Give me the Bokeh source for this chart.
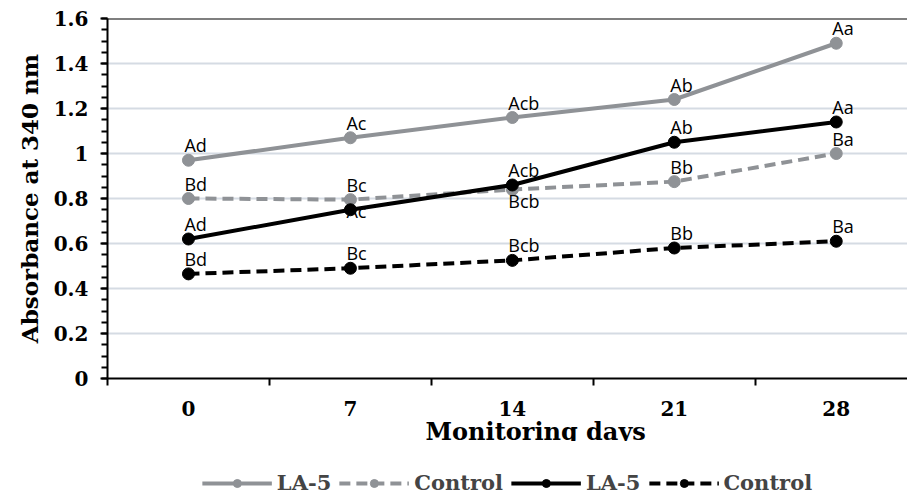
from bokeh.plotting import figure
from bokeh.layouts import column
from bokeh.models import (Range1d, FixedTicker, Legend, LegendItem, Span, Title,
                          ColumnDataSource, CustomJSTickFormatter)
from bokeh.core.properties import value
from bokeh.embed import file_html
from bokeh.resources import INLINE

# ---- data ----
days = ["0", "7", "14", "21", "28"]
la5_grey = [0.97, 1.07, 1.16, 1.24, 1.49]
ctrl_grey = [0.80, 0.795, 0.84, 0.875, 1.00]
la5_black = [0.62, 0.75, 0.86, 1.05, 1.14]
ctrl_black = [0.465, 0.49, 0.525, 0.58, 0.61]

lab_la5_grey = ["Ad", "Ac", "Acb", "Ab", "Aa"]
lab_ctrl_grey = ["Bd", "Bc", "Bcb", "Bb", "Ba"]
lab_la5_black = ["Ad", "Ac", "Acb", "Ab", "Aa"]
lab_ctrl_black = ["Bd", "Bc", "Bcb", "Bb", "Ba"]

y_ticks = [0, 0.2, 0.4, 0.6, 0.8, 1.0, 1.2, 1.4, 1.6]
series_names = ["LA-5", "Control", "LA-5", "Control"]
x_title = "Monitoring days"
y_title = "Absorbance at 340 nm"

# label placement (baseline, screen offset in px; positive = down)
ABOVE = ("alphabetic", -15)
place_la5_grey = [ABOVE] * 5
place_ctrl_grey = [ABOVE, ABOVE, ("top", -1), ABOVE, ABOVE]
place_la5_black = [ABOVE, ("top", -11), ABOVE, ABOVE, ABOVE]
place_ctrl_black = [ABOVE] * 5

GREY = "#8f9296"
BLACK = "#000000"
SERIF = "DejaVu Serif"

xs = list(range(len(days)))

p = figure(frame_width=800, frame_height=360,
           output_backend="svg", toolbar_location=None,
           min_border_left=107, min_border_top=18,
           min_border_right=0, min_border_bottom=0,
           x_range=Range1d(-0.5, 4.44), y_range=Range1d(0, 1.6))
p.outline_line_color = None
p.background_fill_color = "white"
p.border_fill_color = "white"

# axes
xa = p.xaxis[0]
xa.ticker = FixedTicker(ticks=xs, minor_ticks=[i - 0.5 for i in xs])
xa.major_label_overrides = {i: d for i, d in enumerate(days)}
xa.major_tick_line_color = None
xa.minor_tick_line_color = BLACK
xa.minor_tick_line_width = 2
xa.minor_tick_out = 7
xa.minor_tick_in = 0
xa.axis_line_color = BLACK
xa.axis_line_width = 2
xa.major_label_text_font = SERIF
xa.major_label_text_font_style = "bold"
xa.major_label_text_font_size = "20px"
xa.major_label_text_color = BLACK
xa.major_label_standoff = 15

ya = p.yaxis[0]
minor = [round(i * 0.05, 2) for i in range(33)]
ya.ticker = FixedTicker(ticks=y_ticks, minor_ticks=minor)
ya.formatter = CustomJSTickFormatter(code="return tick.toString();")
ya.major_tick_line_color = BLACK
ya.major_tick_line_width = 2
ya.major_tick_out = 7
ya.major_tick_in = 0
ya.minor_tick_line_color = BLACK
ya.minor_tick_line_width = 2
ya.minor_tick_out = 6
ya.minor_tick_in = 0
ya.axis_line_color = BLACK
ya.axis_line_width = 2
ya.major_label_text_font = SERIF
ya.major_label_text_font_style = "bold"
ya.major_label_text_font_size = "20px"
ya.major_label_text_color = BLACK
ya.major_label_standoff = 12
ya.axis_label = y_title
ya.axis_label_text_font = SERIF
ya.axis_label_text_font_style = "bold"
ya.axis_label_text_font_size = "23px"
ya.axis_label_text_color = BLACK
ya.axis_label_standoff = 8

p.xgrid.visible = False
p.ygrid.grid_line_color = "#d5dbe3"
p.ygrid.grid_line_width = 2

p.add_layout(Span(location=1.6, dimension="width", line_color=BLACK, line_width=2))

series = [
    (la5_grey, GREY, "solid", lab_la5_grey, place_la5_grey),
    (ctrl_grey, GREY, "11 6", lab_ctrl_grey, place_ctrl_grey),
    (la5_black, BLACK, "solid", lab_la5_black, place_la5_black),
    (ctrl_black, BLACK, "11 6", lab_ctrl_black, place_ctrl_black),
]

# legend strip (separate figure below the chart; its ranges show no data)
pl = figure(width=907, height=57, output_backend="svg", toolbar_location=None,
            min_border_left=107, min_border_right=0, min_border_top=0,
            min_border_bottom=0, x_axis_location=None, y_axis_location=None,
            x_range=Range1d(100, 101), y_range=Range1d(100, 101))
pl.outline_line_color = None
pl.grid.visible = False

items = []
for (vals, col, dash, labs, place), name in zip(series, series_names):
    src = ColumnDataSource(dict(x=xs, y=vals))
    p.line("x", "y", source=src, line_color=col, line_width=4, line_dash=dash)
    p.scatter("x", "y", source=src, size=12, fill_color=col, line_color=col)
    ln = pl.line("x", "y", source=src, line_color=col, line_width=4, line_dash=dash)
    sc = pl.scatter("x", "y", source=src, size=12, fill_color=col, line_color=col)
    items.append(LegendItem(label=name, renderers=[ln, sc]))

for (vals, col, dash, labs, place) in series:
    for i in xs:
        base, off = place[i]
        s = ColumnDataSource(dict(x=[xs[i]], y=[vals[i]], t=[labs[i]]))
        p.text("x", "y", text="t", source=s, text_font=value("Open Sans"),
               text_font_size="18px", text_color=BLACK, text_align="left",
               text_baseline=base, x_offset=-4, y_offset=off)

xt = Title(text=x_title, align="left", offset=318, text_font=SERIF,
           text_font_style="bold", text_font_size="24px", text_color=BLACK,
           standoff=-8)
p.add_layout(xt, "below")

legend = Legend(items=items, orientation="horizontal", location="bottom_center",
                label_text_font=SERIF, label_text_font_style="bold",
                label_text_font_size="21px", glyph_width=70, glyph_height=20,
                label_standoff=5, spacing=8, border_line_color=None,
                background_fill_alpha=0, margin=3, padding=0)
pl.add_layout(legend, "center")

open("out.html", "w").write(file_html(column(p, pl, spacing=0), INLINE))
